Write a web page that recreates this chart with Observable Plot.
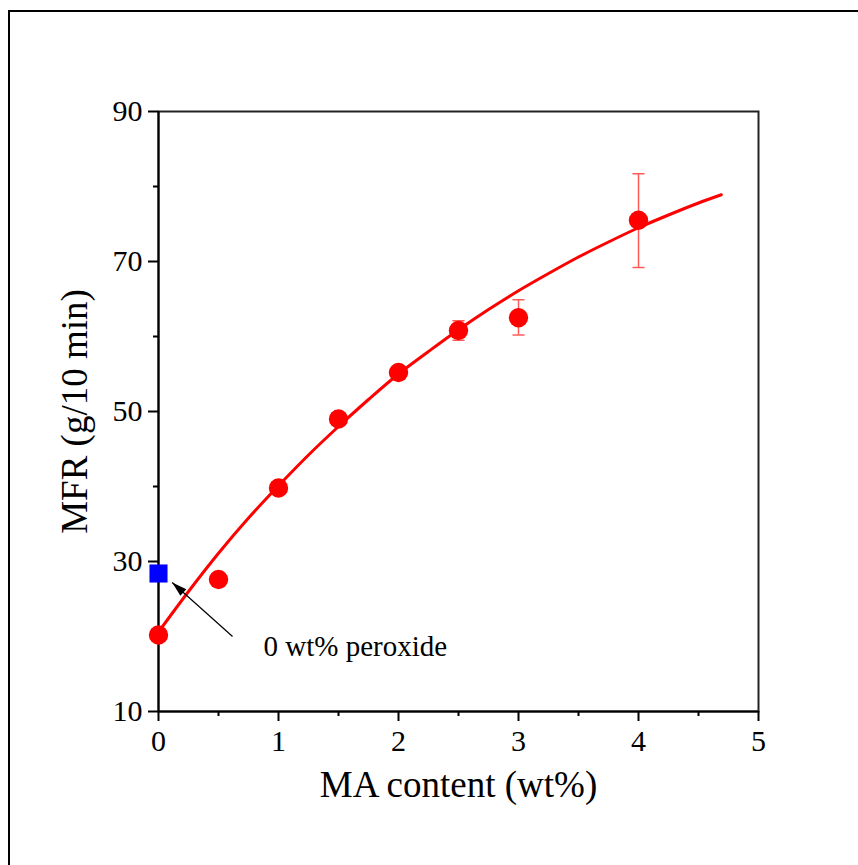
<!DOCTYPE html>
<html>
<head>
<meta charset="utf-8">
<script src="https://cdn.jsdelivr.net/npm/d3@7"></script>
<script src="https://cdn.jsdelivr.net/npm/@observablehq/plot@0.6"></script>
<style>
  html, body { margin: 0; padding: 0; background: #fff; overflow: hidden; }
  #wrap { position: relative; width: 858px; height: 865px; }
  #outer { position: absolute; left: 8px; top: 10px; width: 1000px; height: 1000px;
           border-left: 2px solid #000; border-top: 2px solid #000; pointer-events: none; }
  svg { font-family: "Liberation Serif", "Times New Roman", serif; }
</style>
</head>
<body>
<div id="wrap"><div id="outer"></div></div>
<script>
// measured points
const maContent = [0, 0.5, 1, 1.5, 2, 2.5, 3, 4];
const mfr       = [20.2, 27.6, 39.8, 49.0, 55.2, 60.8, 62.5, 75.5];
const errLow    = [null, null, null, null, null, 59.5, 60.2, 69.2];
const errHigh   = [null, null, null, null, null, 62.1, 64.9, 81.7];

// reference sample without peroxide
const refX = [0];
const refY = [28.4];

// fitted curve
const fitX = [0, 0.25, 0.5, 0.75, 1.0, 1.25, 1.5, 1.75, 2.0, 2.25, 2.5, 2.75, 3.0, 3.25, 3.5, 3.75, 4.0, 4.25, 4.5, 4.69];
const fitY = [20.6, 26.0, 31.1, 35.8, 40.1, 44.2, 48.0, 51.6, 55.0, 58.0, 60.9, 63.6, 66.1, 68.4, 70.6, 72.6, 74.5, 76.2, 77.8, 78.9];

// annotation
const noteText = "0 wt% peroxide";
const noteX = 0.875, noteY = 18.7;
const arrowTail = [0.617, 20.0];
const arrowHead = [0.114, 27.2];

// ticks
const xTicks = [0, 1, 2, 3, 4, 5];
const xMinor = [0.5, 1.5, 2.5, 3.5, 4.5];
const yTicks = [10, 30, 50, 70, 90];
const yMinor = [20, 40, 60, 80];

const xTitle = "MA content (wt%)";
const yTitle = "MFR (g/10 min)";

const points = maContent.map((x, i) => ({x, y: mfr[i], lo: errLow[i], hi: errHigh[i]}));
const errs = points.filter(d => d.lo != null);
const refPts = refX.map((x, i) => ({x, y: refY[i]}));
const fit = fitX.map((x, i) => ({x, y: fitY[i]}));

const capSymbol = { draw(ctx, size) { const w = Math.sqrt(size) / 2; ctx.moveTo(-w, 0); ctx.lineTo(w, 0); } };
const headSymbol = { draw(ctx, size) { ctx.moveTo(0, 0); ctx.lineTo(4.5, 15); ctx.lineTo(-4.5, 15); ctx.closePath(); } };

// screen-space direction of the arrow (x: 120 px/unit, y: 7.5 px/unit)
const ang = Math.atan2((arrowHead[0] - arrowTail[0]) * 120, (arrowHead[1] - arrowTail[1]) * 7.5) * 180 / Math.PI;

const chart = Plot.plot({
  width: 858,
  height: 865,
  marginLeft: 158,
  marginRight: 100,
  marginTop: 111,
  marginBottom: 154,
  x: { domain: [0, 5] },
  y: { domain: [10, 90] },
  style: { fontFamily: "Liberation Serif, Times New Roman, serif", color: "#000", background: "#fff" },
  marks: [
    Plot.frame({ stroke: "#222", strokeWidth: 2 }),
    Plot.axisX({ ticks: xTicks, tickSize: 10, tickPadding: 8, fontSize: 30, label: null, strokeWidth: 2, tickFormat: d => String(d) }),
    Plot.axisX({ ticks: xMinor, tickSize: 5, text: null, label: null, strokeWidth: 2 }),
    Plot.axisY({ ticks: yTicks, tickSize: 10, tickPadding: 6, fontSize: 30, label: null, strokeWidth: 2 }),
    Plot.axisY({ ticks: yMinor, tickSize: 5, text: null, label: null, strokeWidth: 2 }),
    Plot.ruleX([0], { stroke: "#000", strokeWidth: 2 }),
    Plot.ruleY([10], { stroke: "#000", strokeWidth: 2 }),
    Plot.text([xTitle], { frameAnchor: "bottom", dy: 74, fontSize: 37, lineAnchor: "middle", textAnchor: "middle" }),
    Plot.text([yTitle], { frameAnchor: "left", dx: -83, rotate: -90, fontSize: 37, lineAnchor: "middle", textAnchor: "middle" }),
    Plot.line(fit, { x: "x", y: "y", stroke: "#ff0000", strokeWidth: 3, curve: "catmull-rom" }),
    Plot.ruleX(errs, { x: "x", y1: "lo", y2: "hi", stroke: "#ff5a5a", strokeWidth: 1.5 }),
    Plot.dot(errs, { x: "x", y: "lo", symbol: capSymbol, r: 6.8, stroke: "#ff5a5a", strokeWidth: 1.5 }),
    Plot.dot(errs, { x: "x", y: "hi", symbol: capSymbol, r: 6.8, stroke: "#ff5a5a", strokeWidth: 1.5 }),
    Plot.dot(points, { x: "x", y: "y", r: 9.7, fill: "#ff0000" }),
    Plot.dot(refPts, { x: "x", y: "y", symbol: "square", r: 10.2, fill: "#0000ff" }),
    Plot.link([{x1: arrowTail[0], y1: arrowTail[1], x2: arrowHead[0], y2: arrowHead[1]}],
      { x1: "x1", y1: "y1", x2: "x2", y2: "y2", stroke: "#000", strokeWidth: 1.2 }),
    Plot.dot([{x: arrowHead[0], y: arrowHead[1]}], { x: "x", y: "y", symbol: headSymbol, r: 5, fill: "#000", rotate: ang }),
    Plot.text([noteText], { x: () => noteX, y: () => noteY, textAnchor: "start", fontSize: 29, lineAnchor: "middle" })
  ]
});
document.getElementById("wrap").prepend(chart);
</script>
</body>
</html>
